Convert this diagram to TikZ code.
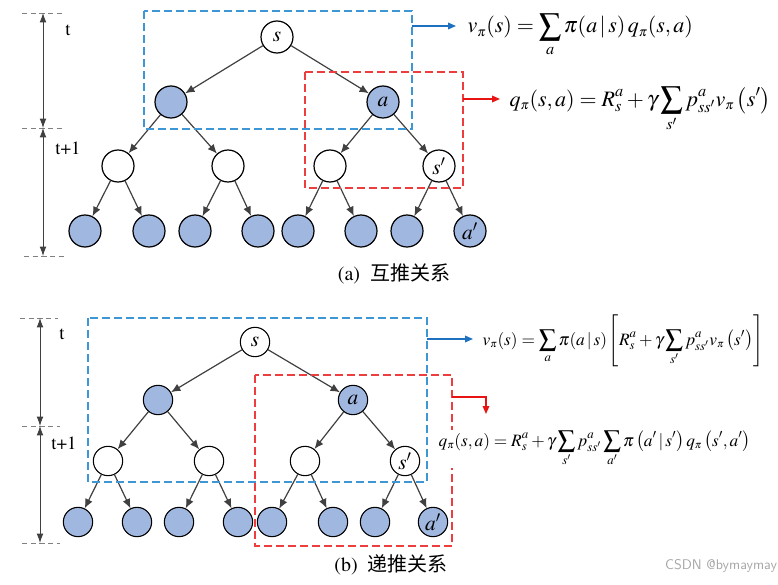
\documentclass[tikz,border=0pt]{standalone}
\usepackage{amsmath}
\usepackage{mathptmx}
\usepackage[no-math]{fontspec}
\setmainfont{Liberation Serif}
\newfontfamily\cjk{Noto Sans CJK SC}
\newcommand\tms{\fontencoding{OT1}\fontfamily{ptm}\selectfont}
\usetikzlibrary{arrows.meta,positioning}
\definecolor{NodeBlue}{RGB}{160,183,224}
\definecolor{BoxBlue}{RGB}{62,150,212}
\definecolor{BoxRed}{RGB}{236,62,62}
\definecolor{ArrowBlue}{RGB}{30,112,192}
\definecolor{ArrowRed}{RGB}{232,20,20}
\definecolor{EdgeGray}{RGB}{64,64,64}

\begin{document}
\begin{tikzpicture}[
        x=0.75pt, y=-0.75pt,
        st/.style={circle, draw, line width=0.9pt, fill=white, inner sep=0pt,
                   minimum size=24pt, font=\fontsize{16}{16}\selectfont},
        act/.style={st, fill=NodeBlue},
        stb/.style={st, minimum size=22pt, line width=0.8pt},
        actb/.style={stb, fill=NodeBlue},
        edge/.style={-{Latex[length=7pt,width=6pt]}, EdgeGray, line width=0.9pt},
        bluebox/.style={draw=BoxBlue, dash pattern=on 6pt off 3pt, line width=0.8pt},
        redbox/.style={draw=BoxRed, dash pattern=on 6pt off 3pt, line width=0.8pt},
        tick/.style={gray, dash pattern=on 4pt off 2.5pt, line width=0.6pt},
        span/.style={{Latex[length=7pt,width=5pt]}-{Latex[length=7pt,width=5pt]},
                     EdgeGray, line width=0.6pt},
        lbl/.style={font=\tms\fontsize{14}{16}\selectfont},
        caption/.style={font=\tms\fontsize{15}{17}\selectfont},
        eq/.style={anchor=base west, inner sep=1pt, font=\fontsize{16.5}{18}\selectfont},
        eqb/.style={anchor=base west, inner sep=1pt, fill=white, font=\fontsize{13}{15}\selectfont},
        pt/.style={-{Triangle[length=6pt,width=5pt]}, line width=0.9pt}
      ]
  \useasboundingbox (0,0) rectangle (778,585);

  % (a) time scale
  \coordinate (ta0) at (43,13);
  \coordinate (ta1) at (43,128);
  \coordinate (ta2) at (43,256);
  \draw[tick] (22,13) -- (63,13);
  \draw[tick] (22,128) -- (65,128);
  \draw[tick] (24,256) -- (66,256);
  \draw[span] (ta0) -- (ta1);
  \draw[span] (ta1) -- (ta2);
  \node[lbl] (tA)  at (68,30)  {t};
  \node[lbl] (t1A) at (68,148) {t+1};

  % (a) tree
  \node[st]  (sA)  at (277,37)  {$s$};
  \node[act] (lA)  at (171,102) {};
  \node[act] (aA)  at (383,102) {$a$};
  \node[st]  (mA1) at (118,166) {};
  \node[st]  (mA2) at (228,166) {};
  \node[st]  (mA3) at (330,166) {};
  \node[st]  (spA) at (439,166) {$s'$};
  \foreach \i/\x in {1/85,2/149,3/195,4/258,5/298,6/361,7/407}
    \node[act] (fA\i) at (\x,231) {};
  \node[act] (apA) at (470,231) {$a'$};

  \draw[edge] (sA) -- (lA);
  \draw[edge] (sA) -- (aA);
  \draw[edge] (lA) -- (mA1);
  \draw[edge] (lA) -- (mA2);
  \draw[edge] (aA) -- (mA3);
  \draw[edge] (aA) -- (spA);
  \draw[edge] (mA1) -- (fA1);
  \draw[edge] (mA1) -- (fA2);
  \draw[edge] (mA2) -- (fA3);
  \draw[edge] (mA2) -- (fA4);
  \draw[edge] (mA3) -- (fA5);
  \draw[edge] (mA3) -- (fA6);
  \draw[edge] (spA) -- (fA7);
  \draw[edge] (spA) -- (apA);

  % (a) boxes and equations
  \draw[bluebox] (144,11) rectangle (412,129);
  \draw[redbox] (305,72) rectangle (463,188);
  \coordinate (bA) at (412,26);
  \coordinate (rA) at (463,99);
  \node[eq] (vA) at (466,33)
    {$\displaystyle v_{\scriptscriptstyle\pi}(s)=\sum_{a}\pi(a\,|\,s)\,q_{\scriptscriptstyle\pi}(s,a)$};
  \node[eq] (qA) at (508,106)
    {$\displaystyle q_{\scriptscriptstyle\pi}(s,a)=R_s^a+\gamma\sum_{s'}p_{ss'}^{a}v_{\scriptscriptstyle\pi}\left(s'\right)$};
  \draw[pt, ArrowBlue] (bA) -- (456,26);
  \draw[pt, ArrowRed] (rA) -- (500,99);
  \node[caption] (capA) at (394,274) {(a)\ \ {\cjk 互推关系}};

  % (b) time scale
  \coordinate (tb0) at (40,318);
  \coordinate (tb1) at (40,426);
  \coordinate (tb2) at (40,543);
  \draw[tick] (20,318) -- (58,318);
  \draw[tick] (22,426) -- (60,426);
  \draw[tick] (22,543) -- (60,543);
  \draw[span] (tb0) -- (tb1);
  \draw[span] (tb1) -- (tb2);
  \node[lbl] (tB)  at (62,334) {t};
  \node[lbl] (t1B) at (64,443) {t+1};

  % (b) tree
  \node[stb]  (sB)  at (255,342) {$s$};
  \node[actb] (lB)  at (158,400) {};
  \node[actb] (aB)  at (353,400) {$a$};
  \node[stb]  (mB1) at (108,461) {};
  \node[stb]  (mB2) at (209,461) {};
  \node[stb]  (mB3) at (305,461) {};
  \node[stb]  (spB) at (405,461) {$s'$};
  \foreach \i/\x in {1/78,2/137,3/179,4/238,5/272,6/333,7/375}
    \node[actb] (fB\i) at (\x,522) {};
  \node[actb] (apB) at (433,522) {$a'$};

  \draw[edge] (sB) -- (lB);
  \draw[edge] (sB) -- (aB);
  \draw[edge] (lB) -- (mB1);
  \draw[edge] (lB) -- (mB2);
  \draw[edge] (aB) -- (mB3);
  \draw[edge] (aB) -- (spB);
  \draw[edge] (mB1) -- (fB1);
  \draw[edge] (mB1) -- (fB2);
  \draw[edge] (mB2) -- (fB3);
  \draw[edge] (mB2) -- (fB4);
  \draw[edge] (mB3) -- (fB5);
  \draw[edge] (mB3) -- (fB6);
  \draw[edge] (spB) -- (fB7);
  \draw[edge] (spB) -- (apB);

  % (b) boxes and equations
  \draw[bluebox] (88,318) rectangle (427,482);
  \draw[redbox] (255,375) rectangle (452,546);
  \coordinate (bB) at (427,339);
  \coordinate (rB) at (452,397);
  \node[eqb] (vB) at (481,345)
    {$\displaystyle v_{\scriptscriptstyle\pi}(s)=\sum_{a}\pi(a\,|\,s)\left[R_s^a+\gamma\sum_{s'}p_{ss'}^{a}v_{\scriptscriptstyle\pi}\left(s'\right)\right]$};
  \node[eqb] (qB) at (437,446)
    {$\displaystyle q_{\scriptscriptstyle\pi}(s,a)=R_s^a+\gamma\sum_{s'}p_{ss'}^{a}\sum_{a'}\pi\left(a'\,|\,s'\right)q_{\scriptscriptstyle\pi}\left(s',a'\right)$};
  \draw[pt, ArrowBlue] (bB) -- (473,339);
  \draw[pt, ArrowRed] (rB) -- (486,397) -- (486,414);
  \node[caption] (capB) at (391,565) {(b)\ \ {\cjk 递推关系}};
  \node[font=\fontsize{10.5}{12}\selectfont\sffamily, text=gray!70] (mark) at (721,566) {CSDN @bymaymay};
\end{tikzpicture}
\end{document}
